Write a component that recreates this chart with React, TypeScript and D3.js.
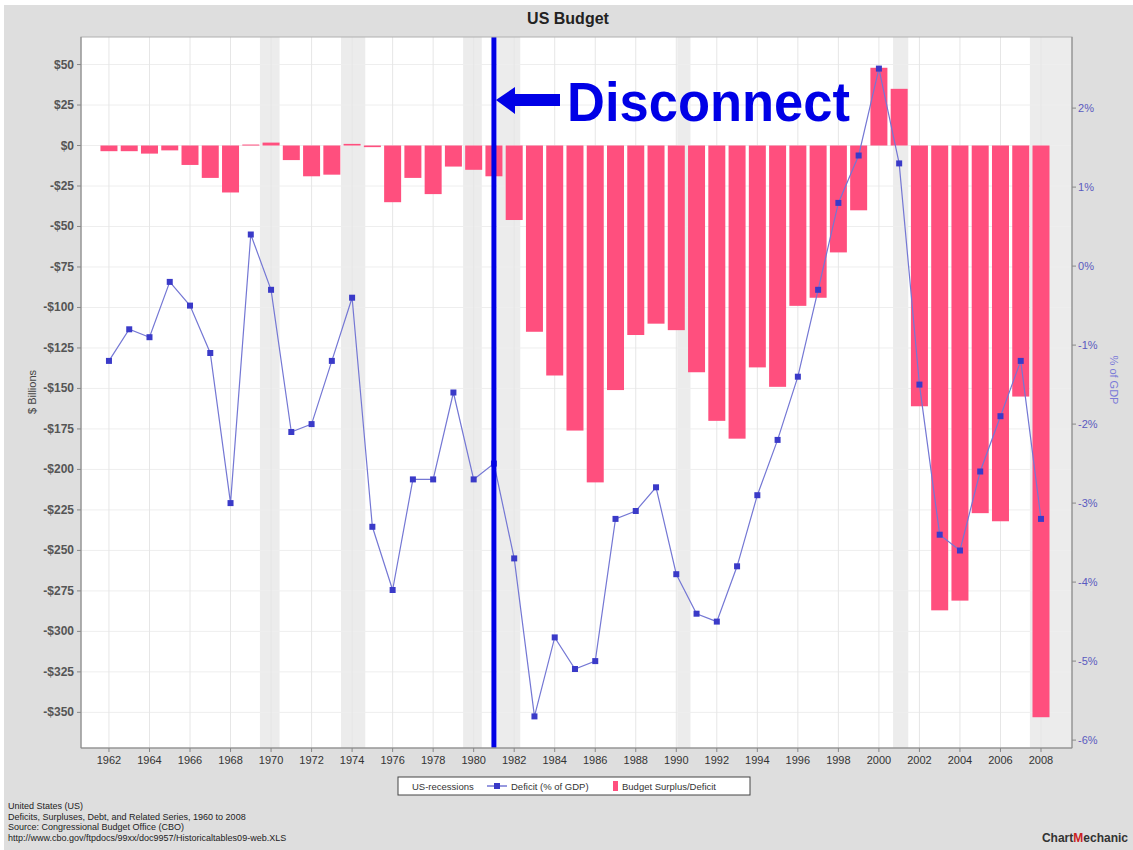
import React from "react";
import * as d3 from "d3";

const years = [1962,1963,1964,1965,1966,1967,1968,1969,1970,1971,1972,1973,1974,1975,1976,1977,1978,1979,1980,1981,1982,1983,1984,1985,1986,1987,1988,1989,1990,1991,1992,1993,1994,1995,1996,1997,1998,1999,2000,2001,2002,2003,2004,2005,2006,2007,2008];
const budget = [-3.5,-3.5,-5,-3,-12,-20,-29,0.6,1.8,-9,-19,-18,1,-1,-35,-20,-30,-13,-15,-19,-46,-115,-142,-176,-208,-151,-117,-110,-114,-140,-170,-181,-137,-149,-99,-94,-66,-40,48,35,-161,-287,-281,-227,-232,-155,-353];
const deficitPct = [-1.2,-0.8,-0.9,-0.2,-0.5,-1.1,-3.0,0.4,-0.3,-2.1,-2.0,-1.2,-0.4,-3.3,-4.1,-2.7,-2.7,-1.6,-2.7,-2.5,-3.7,-5.7,-4.7,-5.1,-5.0,-3.2,-3.1,-2.8,-3.9,-4.4,-4.5,-3.8,-2.9,-2.2,-1.4,-0.3,0.8,1.4,2.5,1.3,-1.5,-3.4,-3.6,-2.6,-1.9,-1.2,-3.2];
const recessionStart = [1969.45,1973.45,1979.48,1981.15,1990.05,2000.7,2007.45];
const recessionEnd = [1970.42,1974.65,1980.4,1982.3,1990.7,2001.45,2009.53];
const leftTicks = [50,25,0,-25,-50,-75,-100,-125,-150,-175,-200,-225,-250,-275,-300,-325,-350];
const rightTicks = [2,1,0,-1,-2,-3,-4,-5,-6];
const xTicks = [1962,1964,1966,1968,1970,1972,1974,1976,1978,1980,1982,1984,1986,1988,1990,1992,1994,1996,1998,2000,2002,2004,2006,2008];
const disconnectYear = 1981;
const footer = [
  "United States (US)",
  "Deficits, Surpluses, Debt, and Related Series, 1960 to 2008",
  "Source: Congressional Budget Office (CBO)",
  "http://www.cbo.gov/ftpdocs/99xx/doc9957/Historicaltables09-web.XLS",
];

export default function App() {
  const L = 81, R = 1072, T = 37, B = 748;
  const x = d3.scaleLinear().domain([1960.62, 2009.53]).range([L, R]);
  const y = d3.scaleLinear().domain([-372, 67]).range([B, T]);
  const y2 = d3.scaleLinear().domain([-6.1, 2.9]).range([B, T]);
  const bw = 17;
  const font = "'Liberation Sans', Arial, sans-serif";
  const line = d3.line<number>().x((_, i) => x(years[i])).y((d) => y2(d));
  const fmt = (v: number) => (v < 0 ? `-$${-v}` : `$${v}`);
  const xd = x(disconnectYear);
  return (
    <svg width={1133} height={850} style={{ position: "absolute", left: 0, top: 0 }} fontFamily={font}>
      <rect x={0} y={0} width={1133} height={850} fill="#ffffff" />
      <rect x={4} y={5} width={1129} height={845} fill="#dedede" />
      <text x={568} y={24} textAnchor="middle" fontSize={16} fontWeight="bold" fill="#222">US Budget</text>
      <rect x={L} y={T} width={R - L} height={B - T} fill="#ffffff" />
      {recessionStart.map((s, i) => (
        <rect key={"r" + i} x={x(s)} y={T} width={x(recessionEnd[i]) - x(s)} height={B - T} fill="#ececec" />
      ))}
      {leftTicks.map((t) => (
        <line key={"hg" + t} x1={L} x2={R} y1={y(t)} y2={y(t)} stroke="#eeeeee" strokeWidth={1} />
      ))}
      {xTicks.map((t) => (
        <line key={"vg" + t} x1={x(t)} x2={x(t)} y1={T} y2={B} stroke="#e6e6e6" strokeWidth={1} />
      ))}
      {years.map((yr, i) => (
        <rect key={"b" + yr} x={x(yr) - bw / 2} y={y(Math.max(0, budget[i]))}
          width={bw} height={Math.max(1, Math.abs(y(budget[i]) - y(0)))} fill="#ff4f7e" />
      ))}
      <path d={line(deficitPct) || ""} fill="none" stroke="#7477d4" strokeWidth={1.2} />
      {years.map((yr, i) => (
        <rect key={"m" + yr} x={x(yr) - 3} y={y2(deficitPct[i]) - 3} width={6} height={6} fill="#3a3ac8" />
      ))}
      <line x1={xd} x2={xd} y1={T} y2={B} stroke="#0000e6" strokeWidth={5} />
      <polygon points={`${xd + 2},100 515,87 515,94 560,94 560,106 515,106 515,114`} fill="#0000e6" />
      <text x={567} y={121} fontSize={55} fontWeight="bold" fill="#0000e6" textLength={283} lengthAdjust="spacingAndGlyphs">Disconnect</text>
      <rect x={L} y={T} width={R - L} height={B - T} fill="none" stroke="#b0b0b0" />
      <line x1={L} x2={L} y1={T} y2={B} stroke="#888" />
      <line x1={R} x2={R} y1={T} y2={B} stroke="#888" />
      <line x1={L} x2={R} y1={B} y2={B} stroke="#888" />
      {leftTicks.map((t) => (
        <g key={"lt" + t}>
          <line x1={L - 4} x2={L} y1={y(t)} y2={y(t)} stroke="#888" />
          <text x={L - 7} y={y(t) + 4} textAnchor="end" fontSize={12} fontWeight="bold" fill="#555">{fmt(t)}</text>
        </g>
      ))}
      {rightTicks.map((t) => (
        <g key={"rt" + t}>
          <line x1={R} x2={R + 4} y1={y2(t)} y2={y2(t)} stroke="#888" />
          <text x={R + 6} y={y2(t) + 4} fontSize={11} fill="#5a5ac0">{t}%</text>
        </g>
      ))}
      {xTicks.map((t) => (
        <g key={"xt" + t}>
          <line x1={x(t)} x2={x(t)} y1={B} y2={B + 4} stroke="#888" />
          <text x={x(t)} y={B + 16} textAnchor="middle" fontSize={11} fill="#333">{t}</text>
        </g>
      ))}
      <text transform={`translate(36,392) rotate(-90)`} textAnchor="middle" fontSize={11} fill="#444">$ Billions</text>
      <text transform={`translate(1110,380) rotate(90)`} textAnchor="middle" fontSize={11} fill="#7a7ad8">% of GDP</text>
      <g>
        <rect x={398} y={777} width={352} height={18} fill="#ffffff" stroke="#444" />
        <text x={412} y={790} fontSize={9.5} fill="#333">US-recessions</text>
        <line x1={487} x2={507} y1={786} y2={786} stroke="#7477d4" strokeWidth={1.5} />
        <rect x={494} y={783} width={6} height={6} fill="#3a3ac8" />
        <text x={511} y={790} fontSize={9.5} fill="#333">Deficit (% of GDP)</text>
        <rect x={613} y={781} width={5} height={10} fill="#ff4f7e" />
        <text x={622} y={790} fontSize={9.5} fill="#333">Budget Surplus/Deficit</text>
      </g>
      {footer.map((f, i) => (
        <text key={"f" + i} x={8} y={809 + i * 10.5} fontSize={9} fill="#222">{f}</text>
      ))}
      <text x={1128} y={842} textAnchor="end" fontSize={12} fontWeight="bold" fill="#333">
        Chart<tspan fill="#cc2222">M</tspan>echanic
      </text>
    </svg>
  );
}
